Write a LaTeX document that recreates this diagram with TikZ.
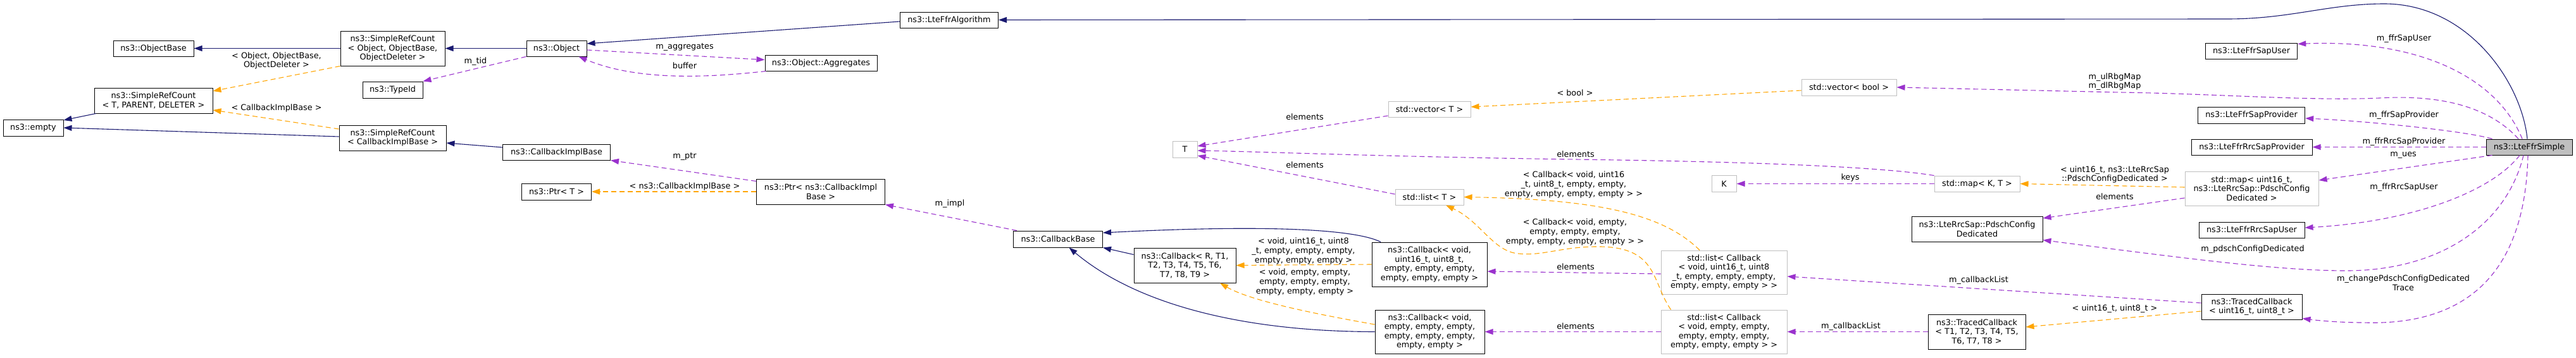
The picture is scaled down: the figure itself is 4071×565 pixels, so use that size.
\documentclass[tikz,border=0pt]{standalone}
\usepackage{fontspec}
\setmainfont{DejaVu Sans}
\usetikzlibrary{arrows.meta}
\definecolor{edgeblue}{HTML}{191970}
\definecolor{edgepurple}{HTML}{9A32CD}
\definecolor{edgeorange}{HTML}{FFA500}
\definecolor{boxgray}{HTML}{BFBFBF}
\begin{document}
\begin{tikzpicture}[x=1pt,y=-1pt,
every node/.style={font=\fontsize{12.8}{14.6}\selectfont, align=center, inner sep=0pt},
cls/.style n args={2}{draw=black, line width=1pt, fill=white, minimum width=#1pt, minimum height=#2pt},
ext/.style n args={2}{cls={#1}{#2}, draw=boxgray},
inherit/.style={draw=edgeblue, line width=1.1pt, -{Triangle[length=13pt,width=9pt]}},
member/.style={draw=edgepurple, line width=1.1pt, dash pattern=on 8pt off 5pt, -{Triangle[length=13pt,width=9pt]}},
templ/.style={draw=edgeorange, line width=1.1pt, dash pattern=on 8pt off 5pt, -{Triangle[length=13pt,width=9pt]}}]
\path[use as bounding box, fill=white] (0,0) rectangle (4071,565);

\node[cls={95}{26}] (empty) at (52.5,202) {ns3::empty};
\node[cls={127}{25}] (objbase) at (242.5,76.5) {ns3::ObjectBase};
\node[cls={187}{40}] (srct) at (242.5,159) {ns3::SimpleRefCount\\< T, PARENT, DELETER >};
\node[cls={165}{55}] (srcobj) at (620.5,76.5) {ns3::SimpleRefCount\\< Object, ObjectBase,\\ObjectDeleter >};
\node[cls={95}{26}] (typeid) at (620.5,142) {ns3::TypeId};
\node[cls={169}{40}] (srccib) at (620.5,218) {ns3::SimpleRefCount\\< CallbackImplBase >};
\node[cls={95}{25}] (object) at (879.5,76.5) {ns3::Object};
\node[cls={177}{25}] (aggr) at (1297.5,99.5) {ns3::Object::Aggregates};
\node[cls={170}{25}] (cib) at (879.5,240.5) {ns3::CallbackImplBase};
\node[cls={110}{26}] (ptrt) at (879.5,303) {ns3::Ptr< T >};
\node[cls={203}{40}] (ptrcib) at (1297,303) {ns3::Ptr< ns3::CallbackImpl\\Base >};
\node[cls={155}{25}] (algo) at (1500,31.5) {ns3::LteFfrAlgorithm};
\node[ext={39}{26}] (t) at (1872.5,236) {T};
\node[cls={141}{26}] (cbbase) at (1672,378) {ns3::CallbackBase};
\node[cls={161}{55}] (cbr) at (1872.5,419.5) {ns3::Callback< R, T1,\\T2, T3, T4, T5, T6,\\T7, T8, T9 >};
\node[ext={130}{25}] (vect) at (2259,172.5) {std::vector< T >};
\node[ext={108}{25}] (listt) at (2259,311.5) {std::list< T >};
\node[cls={182}{70}] (cbu) at (2259,418) {ns3::Callback< void,\\uint16\_t, uint8\_t,\\empty, empty, empty,\\empty, empty, empty >};
\node[cls={173}{69}] (cbe) at (2259.5,524.5) {ns3::Callback< void,\\empty, empty, empty,\\empty, empty, empty,\\empty, empty >};
\node[ext={199}{69}] (listu) at (2724.5,430.5) {std::list< Callback\\< void, uint16\_t, uint8\\\_t, empty, empty, empty,\\empty, empty, empty > >};
\node[ext={199}{69}] (liste) at (2724.5,524.5) {std::list< Callback\\< void, empty, empty,\\empty, empty, empty,\\empty, empty, empty > >};
\node[ext={39}{26}] (k) at (2724.5,290.5) {K};
\node[ext={150}{26}] (vecbool) at (2922,138) {std::vector< bool >};
\node[ext={135}{25}] (mapkt) at (3124.5,290.5) {std::map< K, T >};
\node[cls={207}{40}] (pdcd) at (3124.5,362) {ns3::LteRrcSap::PdschConfig\\Dedicated};
\node[cls={154}{55}] (tct) at (3124,524.5) {ns3::TracedCallback\\< T1, T2, T3, T4, T5,\\T6, T7, T8 >};
\node[cls={145.5}{25}] (sapuser) at (3558,80.5) {ns3::LteFfrSapUser};
\node[cls={169.5}{26}] (sapprov) at (3558,182) {ns3::LteFfrSapProvider};
\node[cls={191}{25}] (rrcprov) at (3558.5,232.5) {ns3::LteFfrRrcSapProvider};
\node[ext={211}{54}] (mapu) at (3558.5,298) {std::map< uint16\_t,\\ns3::LteRrcSap::PdschConfig\\Dedicated >};
\node[cls={167}{25}] (rrcuser) at (3558.5,363.5) {ns3::LteFfrRrcSapUser};
\node[cls={159}{40}] (tcu) at (3558.5,485) {ns3::TracedCallback\\< uint16\_t, uint8\_t >};
\node[cls={136}{25}, fill=boxgray] (simple) at (3997,232.5) {ns3::LteFfrSimple};

% base classes
\draw[inherit] (srcobj.west) -- (objbase.east);
\draw[inherit] ([xshift=3pt]srct.south west) -- ([yshift=12pt]empty.east);
\draw[inherit] ([yshift=2pt]srccib.west) -- (empty.east);
\draw[inherit] (object.west) -- (srcobj.east);
\draw[inherit] ([yshift=7.5pt]cib.west) -- ([yshift=-8pt]srccib.east);
\draw[inherit] ([yshift=-2.5pt]algo.west) -- ([yshift=7.5pt]object.east);
\draw[inherit] ([yshift=17pt]cbr.west) -- (cbbase.south east);
\draw[inherit] ([xshift=-77pt]cbu.north) .. controls (2140,362) and (2000,355) .. ([yshift=10pt]cbbase.east);
\draw[inherit] (cbe.west) .. controls (1950,524) and (1790,476) .. ([xshift=17.5pt]cbbase.south);
\draw[inherit] ([xshift=-3pt]simple.north) .. controls (3985,130) and (3900,6) .. (3768,6)
  .. controls (3680,6) and (3620,30) .. (3520,30) -- (algo.east);

% members
\draw[member] (object.south west) -- (typeid.north east);
\draw[member] ([yshift=-2.5pt]object.east) -- ([yshift=5pt]aggr.west);
\draw[member] ([xshift=2pt]aggr.south west) .. controls (1100,125) and (1000,125) .. ([xshift=-13pt]object.south east);
\draw[member] ([yshift=-4pt]ptrcib.north west) -- (cib.south east);
\draw[member] ([xshift=6pt]cbbase.north west) -- (ptrcib.south east);
\draw[member] ([yshift=-10.5pt]vect.west) -- ([yshift=5pt]t.east);
\draw[member] (mapkt.north west) .. controls (2980,265) and (2800,256) .. (2489,252)
  .. controls (2200,248) and (2000,240) .. ([yshift=-2pt]t.east);
\draw[member] ([yshift=4.5pt]listt.west) -- ([yshift=-10pt]t.east);
\draw[member] ([yshift=-2.5pt]listu.west) -- ([yshift=-11pt]cbu.east);
\draw[member] (liste.west) -- (cbe.east);
\draw[member] (mapkt.west) -- (k.east);
\draw[member] ([yshift=-15pt]mapu.west) -- ([yshift=17pt]pdcd.east);
\draw[member] ([xshift=-17pt]simple.north) .. controls (3930,165) and (3850,150) .. (3760,155)
  .. controls (3650,160) and (3500,148) .. (3350,146) -- (vecbool.east);
\draw[member] ([xshift=-11pt]simple.north) .. controls (3945,120) and (3820,62) .. ([yshift=-2pt]sapuser.north east);
\draw[member] ([xshift=10pt]simple.north west) .. controls (3900,208) and (3750,192) .. ([yshift=-5pt]sapprov.east);
\draw[member] (simple.west) -- (rrcprov.east);
\draw[member] ([xshift=10pt]simple.south west) -- ([yshift=13pt]mapu.east);
\draw[member] ([xshift=-15pt]simple.south) .. controls (3940,300) and (3820,350) .. ([yshift=3.5pt]rrcuser.east);
\draw[member] ([xshift=-9pt]simple.south) .. controls (3960,360) and (3850,428) .. (3708,428)
  .. controls (3600,428) and (3450,408) .. ([yshift=3pt]pdcd.south east);
\draw[member] ([xshift=-2pt]simple.south) .. controls (3990,450) and (3880,515) .. (3734,510)
  .. controls (3700,510) and (3665,507) .. ([yshift=2pt]tcu.south east);
\draw[member] ([yshift=6pt]tcu.west) -- ([yshift=-6.5pt]listu.east);
\draw[member] (tct.west) -- (liste.east);

% template instances
\draw[templ] (srcobj.south west) -- ([yshift=15pt]srct.east);
\draw[templ] ([yshift=14pt]srccib.west) -- ([yshift=-15pt]srct.east);
\draw[templ] (ptrcib.west) -- (ptrt.east);
\draw[templ] ([yshift=-5pt]vecbool.west) -- ([yshift=3.5pt]vect.east);
\draw[templ] ([yshift=2pt]mapu.west) -- (mapkt.east);
\draw[templ] (cbu.west) -- (cbr.east);
\draw[templ] ([yshift=11.5pt]cbe.west) .. controls (2100,500) and (1980,478) .. ([xshift=55.5pt]cbr.south);
\draw[templ] ([xshift=-38.5pt]listu.north) .. controls (2630,340) and (2530,315) .. (listt.east);
\draw[templ] ([xshift=-84pt]liste.north) .. controls (2610,445) and (2620,392) .. (2530,390)
  .. controls (2470,389) and (2440,405) .. (2400,401) .. controls (2360,398) and (2340,350) .. ([xshift=26pt]listt.south);
\draw[templ] ([yshift=-7pt]tcu.west) -- ([yshift=7.5pt]tct.east);

% edge labels
\node (lobj) at (437,96) {< Object, ObjectBase,\\ObjectDeleter >};
\node (lcib) at (437,171) {< CallbackImplBase >};
\node (ltid) at (751.5,97) {m\_tid};
\node (lagg) at (1082,75) {m\_aggregates};
\node (lbuf) at (1082,104) {buffer};
\node (lptr) at (1082,248) {m\_ptr};
\node (lptrt) at (1082,295) {< ns3::CallbackImplBase >};
\node (limpl) at (1501,322) {m\_impl};
\node (lcbu) at (2060,397) {< void, uint16\_t, uint8\\\_t, empty, empty, empty,\\empty, empty, empty >};
\node (lcbe) at (2062,446) {< void, empty, empty,\\empty, empty, empty,\\empty, empty, empty >};
\node (lvec) at (2062,185) {elements};
\node (llist) at (2062,261) {elements};
\node (lbool) at (2489,147) {< bool >};
\node (lmap) at (2490,244) {elements};
\node (llistu) at (2487,292) {< Callback< void, uint16\\\_t, uint8\_t, empty, empty,\\empty, empty, empty, empty > >};
\node (lliste) at (2489,367) {< Callback< void, empty,\\empty, empty, empty,\\empty, empty, empty, empty > >};
\node (lelu) at (2490,422) {elements};
\node (lele) at (2490,516) {elements};
\node (lkeys) at (2924,281) {keys};
\node (lcbl2) at (2925,516) {m\_callbackList};
\node (lrbg) at (3342,129) {m\_ulRbgMap\\m\_dlRbgMap};
\node (lmapu) at (3342,276) {< uint16\_t, ns3::LteRrcSap\\::PdschConfigDedicated >};
\node (lelpd) at (3342,311) {elements};
\node (lcbl1) at (3127,443) {m\_callbackList};
\node (ltcu) at (3342,488) {< uint16\_t, uint8\_t >};
\node (lsapuser) at (3799,61) {m\_ffrSapUser};
\node (lsapprov) at (3799,182) {m\_ffrSapProvider};
\node (lrrcprov) at (3799,224) {m\_ffrRrcSapProvider};
\node (lues) at (3798,245) {m\_ues};
\node (lrrcuser) at (3799,296) {m\_ffrRrcSapUser};
\node (lpdsch) at (3560,394) {m\_pdschConfigDedicated};
\node (ltrace) at (3798,447.5) {m\_changePdschConfigDedicated\\Trace};
\end{tikzpicture}
\end{document}
